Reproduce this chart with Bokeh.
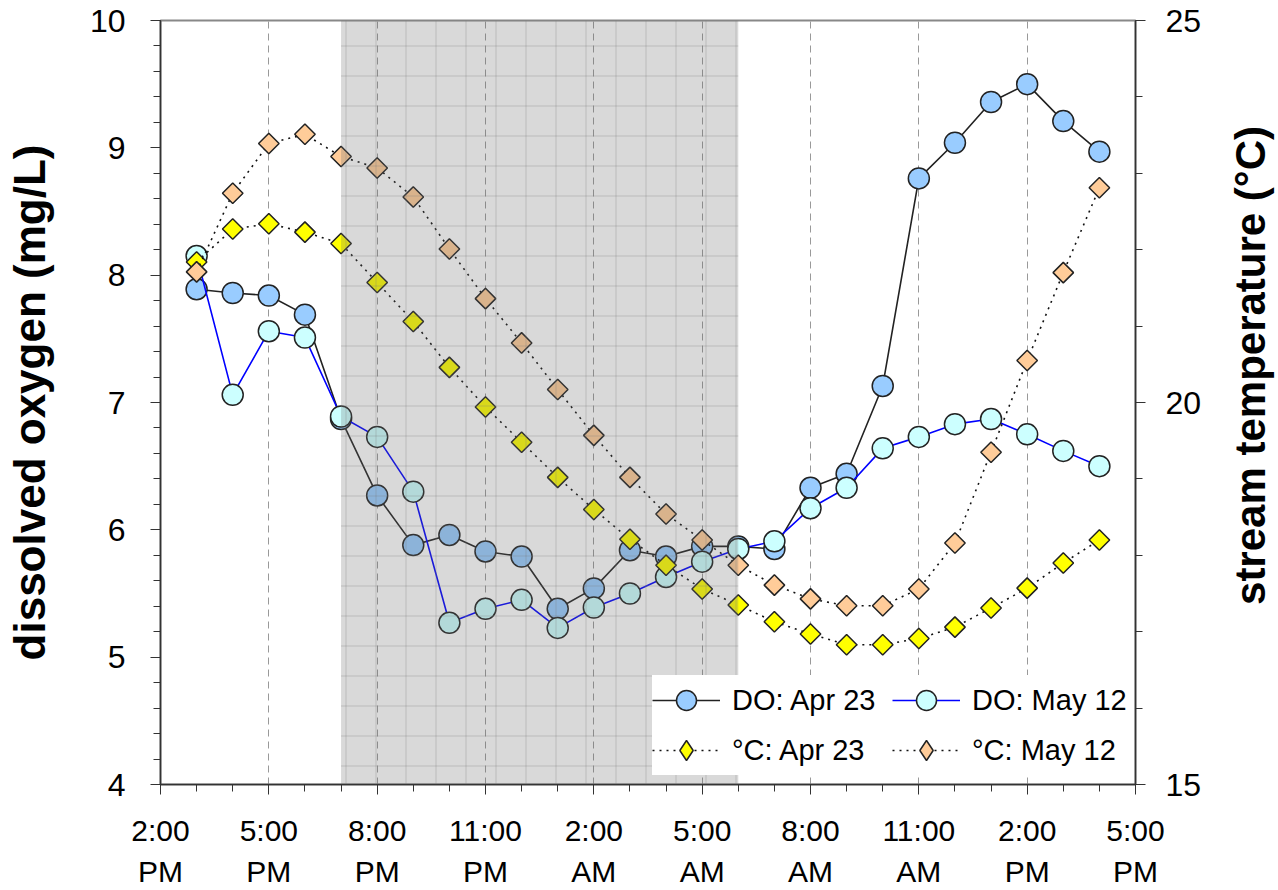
import math
from bokeh.plotting import figure
from bokeh.layouts import row
from bokeh.models import (Range1d, LinearAxis, FixedTicker, BoxAnnotation, Legend,
                          LegendItem, Label)
from bokeh.embed import file_html
from bokeh.resources import INLINE

# ---------------- data ----------------
hours = list(range(15, 41))  # 3 PM day 1 ... 4 PM day 2 (hour of day, continued past 24)

do_apr23 = [7.89, 7.86, 7.84, 7.69, 6.87, 6.27, 5.88, 5.96, 5.83, 5.79, 5.38, 5.54, 5.84,
            5.79, 5.87, 5.87, 5.85, 6.33, 6.44, 7.13, 8.76, 9.04, 9.36, 9.50, 9.21, 8.97]
do_may12 = [8.15, 7.06, 7.56, 7.51, 6.89, 6.73, 6.30, 5.27, 5.38, 5.45, 5.23, 5.39, 5.50,
            5.63, 5.75, 5.85, 5.91, 6.17, 6.33, 6.64, 6.73, 6.83, 6.87, 6.75, 6.62, 6.50]
t_apr23 = [21.84, 22.27, 22.34, 22.23, 22.08, 21.57, 21.06, 20.46, 19.94, 19.48, 19.02, 18.60, 18.21,
           17.87, 17.56, 17.35, 17.13, 16.97, 16.83, 16.83, 16.91, 17.06, 17.31, 17.57, 17.90, 18.20]
t_may12 = [21.71, 22.74, 23.39, 23.51, 23.22, 23.07, 22.69, 22.01, 21.36, 20.78, 20.17, 19.57, 19.02,
           18.54, 18.20, 17.87, 17.61, 17.43, 17.34, 17.34, 17.56, 18.16, 19.35, 20.55, 21.70, 22.81]

x_ticks = [14, 17, 20, 23, 26, 29, 32, 35, 38, 41]
x_tick_labels = ["2:00\nPM", "5:00\nPM", "8:00\nPM", "11:00\nPM", "2:00\nAM",
                 "5:00\nAM", "8:00\nAM", "11:00\nAM", "2:00\nPM", "5:00\nPM"]
x_minor = list(range(14, 42))
do_ticks = [4, 5, 6, 7, 8, 9, 10]
do_minor = [4 + 0.2 * i for i in range(31)]
t_ticks = [15, 20, 25]
t_minor = list(range(15, 26))
night_start, night_end = 19, 30   # 7 PM to 6 AM

FONT = "Liberation Sans"
TOP, BOTTOM = 20, 104

p = figure(width=1218, height=890, output_backend="svg", toolbar_location=None,
           x_range=Range1d(14, 41), y_range=Range1d(4, 10),
           min_border_left=160, min_border_right=83, min_border_top=TOP, min_border_bottom=BOTTOM)
p.outline_line_color = "#888888"
p.outline_line_width = 2
p.background_fill_color = "white"
p.border_fill_color = "white"
p.extra_y_ranges = {"temp": Range1d(15, 25)}

# grids
p.ygrid.visible = False
p.xgrid.ticker = FixedTicker(ticks=x_ticks)
p.xgrid.grid_line_color = "#999999"
p.xgrid.grid_line_dash = "7 5"
p.xgrid.grid_line_width = 1

# axes
xa = p.xaxis[0]
xa.ticker = FixedTicker(ticks=x_ticks, minor_ticks=x_minor)
xa.major_label_overrides = {t: l for t, l in zip(x_ticks, x_tick_labels)}
ya = p.yaxis[0]
ya.ticker = FixedTicker(ticks=do_ticks, minor_ticks=do_minor)
ya.axis_label = "dissolved oxygen (mg/L)"
ra = LinearAxis(y_range_name="temp", ticker=FixedTicker(ticks=t_ticks, minor_ticks=t_minor))
p.add_layout(ra, "right")

for ax in (xa, ya, ra):
    ax.axis_line_color = "#333333"
    ax.axis_line_width = 1.5
    ax.major_tick_line_color = "#333333"
    ax.minor_tick_line_color = "#333333"
    ax.major_tick_in = 0
    ax.minor_tick_in = 0
    ax.major_tick_out = 10
    ax.minor_tick_out = 7
    ax.major_label_text_font = FONT
    ax.major_label_text_color = "black"
    ax.axis_label_text_font = FONT
    ax.axis_label_text_font_style = "bold"
    ax.axis_label_text_font_size = "44px"
    ax.axis_label_text_color = "black"

xa.major_label_text_font_size = "30px"
xa.major_label_text_line_height = 1.25
xa.major_label_standoff = 19
ya.major_label_text_font_size = "32px"
ya.major_label_standoff = 25
ya.axis_label_standoff = 33
ra.major_label_text_font_size = "32px"
ra.major_label_standoff = 20

# series
r1l = p.line(hours, do_apr23, line_color="#222222", line_width=1.6)
r1m = p.scatter(hours, do_apr23, marker="circle", size=21, fill_color="#99CCFF",
                line_color="#222222", line_width=1.5)
r2l = p.line(hours, do_may12, line_color="#0000FF", line_width=1.6)
r2m = p.scatter(hours, do_may12, marker="circle", size=21, fill_color="#CCFFFF",
                line_color="#222222", line_width=1.5)
r3l = p.line(hours, t_apr23, y_range_name="temp", line_color="#111111", line_width=1.6,
             line_dash="2 5")
r3m = p.scatter(hours, t_apr23, y_range_name="temp", marker="square", angle=math.pi / 4,
                size=14.5, fill_color="#FFFF00", line_color="#222222", line_width=1.5)
r4l = p.line(hours, t_may12, y_range_name="temp", line_color="#111111", line_width=1.6,
             line_dash="2 5")
r4m = p.scatter(hours, t_may12, y_range_name="temp", marker="square", angle=math.pi / 4,
                size=14.5, fill_color="#FFCC99", line_color="#222222", line_width=1.5)

# legend-only diamond proxies (legend glyphs ignore marker angle); NaN -> nothing drawn in plot
nan = float("nan")
k3 = p.scatter([nan], [nan], marker="diamond", fill_color="#FFFF00", line_color="#222222",
               line_width=1.5, y_range_name="temp")
k4 = p.scatter([nan], [nan], marker="diamond", fill_color="#FFCC99", line_color="#222222",
               line_width=1.5, y_range_name="temp")

legend = Legend(items=[
    LegendItem(label="DO: Apr 23", renderers=[r1l, r1m]),
    LegendItem(label="°C: Apr 23", renderers=[r3l, k3]),
    LegendItem(label="DO: May 12", renderers=[r2l, r2m]),
    LegendItem(label="°C: May 12", renderers=[r4l, k4]),
], ncols=2, location=(492, 9))
legend.border_line_color = None
legend.background_fill_color = "white"
legend.background_fill_alpha = 1.0
legend.label_text_font = FONT
legend.label_text_font_size = "29px"
legend.label_text_color = "black"
legend.glyph_width = 68
legend.glyph_height = 50
legend.label_height = 50
legend.label_width = 160
legend.spacing = 0
legend.padding = 4
legend.margin = 0
legend.label_standoff = 12
p.add_layout(legend, "center")

# night shading, drawn over everything inside the frame
night = BoxAnnotation(left=night_start, right=night_end, fill_color="#666666", fill_alpha=0.25,
                      line_color=None, hatch_pattern="+", hatch_color="#777777",
                      hatch_alpha=0.3, hatch_scale=30, hatch_weight=1, level="overlay")
p.add_layout(night)

# right axis title (reads bottom-to-top like the left one), in a narrow side panel
p2 = figure(width=60, height=890, output_backend="svg", toolbar_location=None,
            x_range=Range1d(0, 1), y_range=Range1d(0, 1),
            min_border_left=0, min_border_right=0, min_border_top=TOP, min_border_bottom=BOTTOM,
            x_axis_location=None, y_axis_location=None)
p2.outline_line_color = None
p2.grid.visible = False
p2.add_layout(Label(x=32, y=419, x_units="screen", y_units="screen",
                    text="stream temperature (°C)", angle=math.pi / 2,
                    text_align="center", text_baseline="middle",
                    text_font=FONT, text_font_style="bold", text_font_size="42px",
                    text_color="black"))

layout = row(p, p2, spacing=0)
open("out.html", "w").write(file_html(layout, INLINE))
